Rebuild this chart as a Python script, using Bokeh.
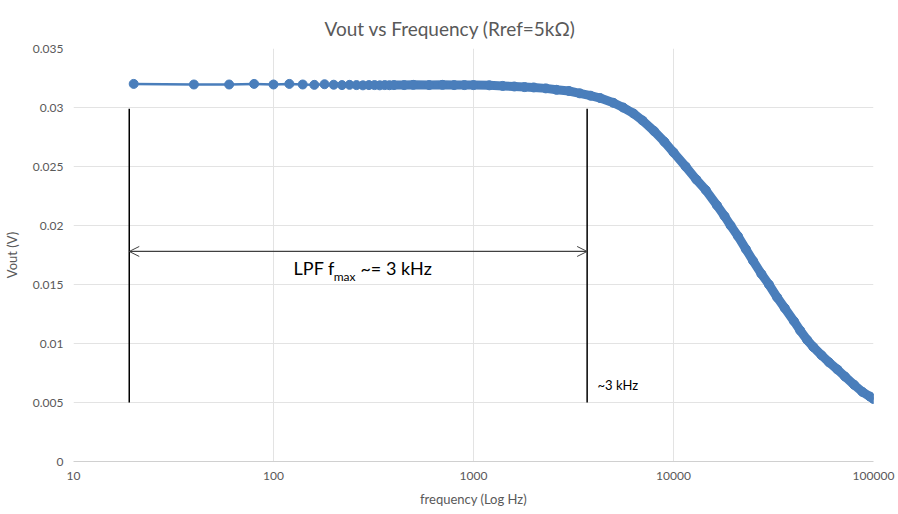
from bokeh.plotting import figure
from bokeh.models import (FixedTicker, CustomJSTickFormatter, Arrow, OpenHead,
                          Range1d)
from bokeh.core.properties import value
from bokeh.embed import file_html
from bokeh.resources import INLINE

# ---- data ----
freq_low = [20, 40, 60, 80, 100, 120, 140, 160, 180, 200, 220, 240, 260, 280,
            300, 320, 340, 360, 380, 400]
vout_low = [0.0320, 0.03195, 0.03195, 0.0320, 0.03195, 0.0320, 0.03195, 0.03192,
            0.03197, 0.03193, 0.0319, 0.03192, 0.0319, 0.03188, 0.0319, 0.0319,
            0.03188, 0.0319, 0.03189, 0.0319]
freq_high = [400, 450, 500, 600, 700, 800, 900, 1000, 1200, 1400, 1600, 1800, 2000,
             2300, 2600, 3000, 3400, 3850, 4300, 5000, 5600, 6300, 7000, 8000, 9000,
             10000, 11500, 13000, 14500, 16500, 18000, 19300, 21000, 23000, 25000,
             27500, 30000, 33000, 36000, 40000, 43000, 46600, 50000, 55000, 60000,
             66000, 72000, 80000, 88000, 96000, 100000]
vout_high = [0.0319, 0.0319, 0.03192, 0.0319, 0.03192, 0.0319, 0.0319, 0.0319,
             0.03188, 0.03183, 0.03178, 0.03173, 0.0317, 0.03162, 0.0315, 0.0314,
             0.0312, 0.0310, 0.0308, 0.0304, 0.0300, 0.0295, 0.0289, 0.0280, 0.0271,
             0.0262, 0.0250, 0.0239, 0.0230, 0.0217, 0.0208, 0.0200, 0.0191, 0.0180,
             0.0170, 0.0159, 0.0150, 0.0139, 0.0130, 0.0119, 0.0111, 0.0103, 0.0097,
             0.0090, 0.0084, 0.0078, 0.0072, 0.0065, 0.0059, 0.0055, 0.0053]

x_ticks = [10, 100, 1000, 10000, 100000]
y_ticks = [0, 0.005, 0.01, 0.015, 0.02, 0.025, 0.03, 0.035]

# annotation values
marker_freqs = [19, 3700]
marker_v_bottom = [0.005, 0.005]
marker_v_top = [0.0299, 0.0299]
arrow_y = 0.0178

freq_all = freq_low + freq_high[1:]
vout_all = vout_low + vout_high[1:]

BLUE = "#4A7EBB"
GREY = "#595959"
FONT = "Lato"

p = figure(width=898, height=514, x_axis_type="log", output_backend="svg",
           toolbar_location=None, x_range=Range1d(10, 100000),
           y_range=Range1d(0, 0.035),
           min_border_left=73, min_border_right=25, min_border_top=48,
           min_border_bottom=53)
p.outline_line_color = None
p.background_fill_color = "white"
p.border_fill_color = "white"

p.title.text = "Vout  vs Frequency (Rref=5k\u03a9)"
p.title.align = "left"
p.title.offset = 251
p.title.vertical_align = "top"
p.title.standoff = 14
p.title.text_font = FONT
p.title.text_font_size = "19px"
p.title.text_font_style = "normal"
p.title.text_color = GREY

# axes
p.xaxis.ticker = FixedTicker(ticks=x_ticks)
p.xaxis.formatter = CustomJSTickFormatter(code="return tick.toFixed(0);")
p.yaxis.ticker = FixedTicker(ticks=y_ticks)
p.yaxis.formatter = CustomJSTickFormatter(
    code="return tick === 0 ? '0' : String(+tick.toFixed(3));")
for ax in (p.xaxis, p.yaxis):
    ax.major_tick_line_color = None
    ax.minor_tick_line_color = None
    ax.major_tick_out = 0
    ax.major_tick_in = 0
    ax.minor_tick_out = 0
    ax.minor_tick_in = 0
    ax.major_label_text_font = FONT
    ax.major_label_text_font_size = "12px"
    ax.major_label_text_color = GREY
    ax.axis_label_text_font = FONT
    ax.axis_label_text_font_size = "13px"
    ax.axis_label_text_font_style = "normal"
    ax.axis_label_text_color = GREY
p.yaxis.axis_line_color = None
p.xaxis.axis_line_color = "#D0D0D0"
p.xaxis.axis_label = "frequency (Log Hz)"
p.yaxis.axis_label = "Vout (V)"
p.xaxis.major_label_standoff = 10
p.yaxis.major_label_standoff = 10
p.xaxis.axis_label_standoff = 8
p.yaxis.axis_label_standoff = 10

p.xgrid.ticker = FixedTicker(ticks=x_ticks)
p.ygrid.ticker = FixedTicker(ticks=y_ticks)
p.xgrid.grid_line_color = "#E3E3E3"
p.ygrid.grid_line_color = "#E3E3E3"
p.xgrid.minor_grid_line_color = None

# series
p.line(freq_all, vout_all, line_color=BLUE, line_width=2.5)
p.line(freq_high, vout_high, line_color=BLUE, line_width=9, line_cap="round",
       line_join="round")
p.scatter(freq_all, vout_all, size=9, fill_color=BLUE, line_color=BLUE)

# annotations: vertical lines
p.segment(x0=marker_freqs, y0=marker_v_bottom, x1=marker_freqs, y1=marker_v_top,
          line_color="black", line_width=1.5)
p.add_layout(Arrow(x_start=marker_freqs[0], y_start=arrow_y,
                   x_end=marker_freqs[1], y_end=arrow_y,
                   line_color="#404040", line_width=1.2,
                   start=OpenHead(size=10, line_color="#404040", line_width=1),
                   end=OpenHead(size=10, line_color="#404040", line_width=1)))

lab_y = 0.0164
p.text(x=[126], y=[lab_y], text=["LPF f"], text_font=value(FONT),
       text_font_size="18px", text_color="black", text_baseline="middle",
       text_align="left")
p.text(x=[200], y=[lab_y - 0.0007], text=["max"], text_font=value(FONT),
       text_font_size="12px", text_color="black", text_baseline="middle",
       text_align="left")
p.text(x=[272], y=[lab_y], text=["~= 3 kHz"], text_font=value(FONT),
       text_font_size="18px", text_color="black", text_baseline="middle",
       text_align="left")
p.text(x=[4170], y=[0.0065], text=["~3 kHz"], text_font=value(FONT),
       text_font_size="13px", text_color="black", text_baseline="middle",
       text_align="left")

open("out.html", "w").write(file_html(p, INLINE))
